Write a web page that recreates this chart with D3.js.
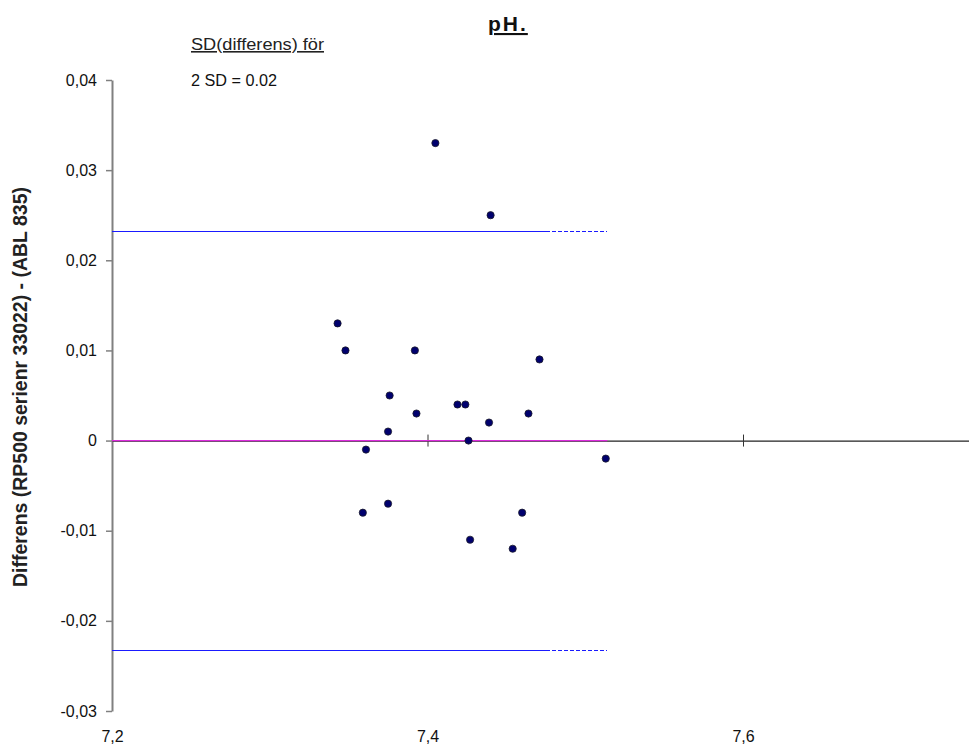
<!DOCTYPE html>
<html>
<head>
<meta charset="utf-8">
<script src="https://cdn.jsdelivr.net/npm/d3@7"></script>
<style>
  html, body { margin: 0; padding: 0; background: #fff; }
  svg { display: block; }
  text { font-family: "Liberation Sans", Arial, sans-serif; }
</style>
</head>
<body>
<svg id="chart" width="969" height="749"></svg>
<script>
// pH measurements (x) and differences between the two analysers (y)
const phValues = [7.405, 7.440, 7.343, 7.348, 7.392, 7.471, 7.376, 7.419, 7.424, 7.393, 7.464,
                  7.439, 7.375, 7.426, 7.361, 7.513, 7.359, 7.375, 7.460, 7.427, 7.454];
const diffValues = [0.033, 0.025, 0.013, 0.010, 0.010, 0.009, 0.005, 0.004, 0.004, 0.003, 0.003,
                    0.002, 0.001, 0.000, -0.001, -0.002, -0.008, -0.007, -0.008, -0.011, -0.012];

const meanDiff = 0;
const limitUpper = 0.0232;
const limitLower = -0.0232;
// limit lines: solid part, then dashed continuation to the last measurement
const limitSolidEnd = 7.475;
const limitDashEnd = 7.514;

const xTickValues = [7.2, 7.4, 7.6];
const xTickLabels = ["7,2", "7,4", "7,6"];
const yTickValues = [0.04, 0.03, 0.02, 0.01, 0, -0.01, -0.02, -0.03];
const yTickLabels = ["0,04", "0,03", "0,02", "0,01", "0", "-0,01", "-0,02", "-0,03"];

const svg = d3.select("#chart");

const x = d3.scaleLinear().domain([7.2, 7.8]).range([112, 1058.5]);
const y = d3.scaleLinear().domain([-0.03, 0.04]).range([711, 80]);

// Title
svg.append("text")
  .attr("x", 488).attr("y", 31)
  .attr("font-size", 21).attr("font-weight", "bold")
  .attr("letter-spacing", 2)
  .attr("text-decoration", "underline")
  .attr("fill", "#111")
  .text("pH.");

// Annotation
svg.append("text")
  .attr("x", 191).attr("y", 50)
  .attr("font-size", 16)
  .attr("textLength", 133).attr("lengthAdjust", "spacingAndGlyphs")
  .attr("text-decoration", "underline")
  .attr("fill", "#222")
  .text("SD(differens) för");
svg.append("text")
  .attr("x", 191).attr("y", 86)
  .attr("font-size", 16)
  .attr("textLength", 86).attr("lengthAdjust", "spacingAndGlyphs")
  .attr("fill", "#111")
  .text("2 SD = 0.02");

// Y axis label
svg.append("text")
  .attr("transform", "translate(27,387) rotate(-90)")
  .attr("text-anchor", "middle")
  .attr("font-size", 20).attr("font-weight", "bold")
  .attr("font-family", "'Liberation Sans Narrow', 'Liberation Sans', sans-serif")
  .attr("textLength", 400).attr("lengthAdjust", "spacingAndGlyphs")
  .attr("fill", "#222")
  .text("Differens (RP500 serienr 33022) - (ABL 835)");

// Y axis
const yAxis = d3.axisLeft(y)
  .tickValues(yTickValues)
  .tickFormat((d, i) => yTickLabels[i])
  .tickSizeInner(6).tickSizeOuter(0).tickPadding(9);
const gy = svg.append("g").attr("transform", "translate(112,0)").call(yAxis);
gy.select(".domain").attr("stroke", "#808080").attr("stroke-width", 2);
gy.selectAll(".tick line").attr("stroke", "#808080").attr("stroke-width", 1.5);
gy.selectAll(".tick text").attr("font-size", 16).attr("fill", "#111")
  .attr("font-family", "'Liberation Sans', Arial, sans-serif");

// X axis line through zero with crossing ticks
const xAxis = d3.axisBottom(x)
  .tickValues(xTickValues.slice(1))
  .tickFormat("")
  .tickSizeInner(12).tickSizeOuter(0);
const gx = svg.append("g").attr("transform", `translate(0,${y(0)})`).call(xAxis);
gx.select(".domain").attr("stroke", "#222").attr("stroke-width", 1.3);
gx.selectAll(".tick line").attr("y1", -6).attr("y2", 6).attr("stroke", "#333");

// X tick labels along the bottom
const xLabelAxis = d3.axisBottom(x)
  .tickValues(xTickValues)
  .tickFormat((d, i) => xTickLabels[i])
  .tickSize(0).tickPadding(20);
const gxl = svg.append("g").attr("transform", `translate(0,${y(-0.03)})`).call(xLabelAxis);
gxl.select(".domain").remove();
gxl.selectAll(".tick text").attr("font-size", 16).attr("fill", "#111")
  .attr("font-family", "'Liberation Sans', Arial, sans-serif");

// Mean difference line
svg.append("line")
  .attr("x1", x(7.2)).attr("x2", x(limitDashEnd))
  .attr("y1", y(meanDiff)).attr("y2", y(meanDiff))
  .attr("stroke", "#dd2add").attr("stroke-width", 1.3);

// Limits of agreement
[limitUpper, limitLower].forEach(v => {
  const yy = Math.round(y(v)) + 0.5;
  svg.append("line")
    .attr("x1", x(7.2)).attr("x2", x(limitSolidEnd))
    .attr("y1", yy).attr("y2", yy)
    .attr("stroke", "#1a1aff").attr("stroke-width", 1)
    .attr("shape-rendering", "crispEdges");
  svg.append("line")
    .attr("x1", x(limitSolidEnd)).attr("x2", x(limitDashEnd))
    .attr("y1", yy).attr("y2", yy)
    .attr("stroke", "#1a1aff").attr("stroke-width", 1)
    .attr("shape-rendering", "crispEdges")
    .attr("stroke-dasharray", "4,2");
});

// Data points
svg.append("g").selectAll("circle")
  .data(phValues.map((p, i) => [p, diffValues[i]]))
  .join("circle")
  .attr("cx", d => x(d[0]))
  .attr("cy", d => y(d[1]))
  .attr("r", 3.6)
  .attr("fill", "#00006e")
  .attr("stroke", "#1a1a2a")
  .attr("stroke-width", 0.8);
</script>
</body>
</html>
